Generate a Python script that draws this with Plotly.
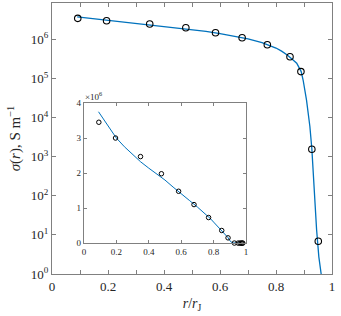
import plotly.graph_objects as go

# measured data (open circles)
r_obs = [0.092, 0.195, 0.349, 0.478, 0.584, 0.679, 0.769, 0.850, 0.889, 0.928, 0.951, 0.962, 0.970, 0.976, 0.980]
sigma_obs = [3.45e6, 3.0e6, 2.47e6, 1.98e6, 1.48e6, 1.10e6, 7.3e5, 3.6e5, 1.5e5, 1.55e3, 6.9, 0.3, 0.1, 0.05, 0.02]

# model curve
r_fit = [0.09, 0.15, 0.20, 0.25, 0.30, 0.35, 0.40, 0.45, 0.50, 0.55, 0.60, 0.65, 0.70, 0.75, 0.78,
         0.80, 0.82, 0.84, 0.86, 0.874, 0.89, 0.897, 0.909, 0.921, 0.928, 0.937, 0.945, 0.953, 0.960, 0.967]
sigma_fit = [3.75e6, 3.36e6, 3.0e6, 2.75e6, 2.52e6, 2.32e6, 2.14e6, 1.97e6, 1.80e6, 1.60e6, 1.40e6,
             1.22e6, 1.03e6, 0.83e6, 0.70e6, 0.60e6, 0.50e6, 0.40e6, 0.30e6, 0.245e6, 0.15e6, 9.0e4,
             2.8e4, 5.9e3, 1.6e3, 95, 13.5, 2.75, 1.4, 0.5]

x_ticks = [0, 0.1, 0.2, 0.3, 0.4, 0.5, 0.6, 0.7, 0.8, 0.9, 1.0]
x_labels = ["0", "", "0.2", "", "0.4", "", "0.6", "", "0.8", "", "1"]
y_exps = [0, 1, 2, 3, 4, 5, 6]
inset_x_ticks = [0, 0.2, 0.4, 0.6, 0.8, 1.0]
inset_x_labels = ["0", "0.2", "0.4", "0.6", "0.8", "1"]
inset_y_ticks = [0, 1, 2, 3, 4]

LINE = "#0072BD"
AX = "#808080"
TXT = "#262626"
FONT = "Liberation Serif"


def f(size):
    return dict(family=FONT, size=size, color=TXT)


fig = go.Figure()
fig.add_trace(go.Scatter(x=r_fit, y=sigma_fit, mode="lines", line=dict(color=LINE, width=1.3),
                         xaxis="x", yaxis="y", showlegend=False))
fig.add_trace(go.Scatter(x=r_obs, y=sigma_obs, mode="markers",
                         marker=dict(symbol="circle-open", size=6.5, color="black", line=dict(width=1.1)),
                         xaxis="x", yaxis="y", showlegend=False))
# inset (linear scale, in units of 1e6)
fig.add_trace(go.Scatter(x=r_fit, y=[v / 1e6 for v in sigma_fit], mode="lines",
                         line=dict(color=LINE, width=1), xaxis="x2", yaxis="y2", showlegend=False))
fig.add_trace(go.Scatter(x=r_obs, y=[v / 1e6 for v in sigma_obs], mode="markers",
                         marker=dict(symbol="circle-open", size=4.5, color="black", line=dict(width=1)),
                         xaxis="x2", yaxis="y2", showlegend=False, cliponaxis=False))

axcommon = dict(showline=True, linecolor=AX, linewidth=1, mirror="ticks", ticks="inside",
                tickcolor=AX, showgrid=False, zeroline=False, automargin=False)

fig.update_layout(
    width=341, height=316,
    margin=dict(l=52, r=9, t=3, b=42, autoexpand=False),
    paper_bgcolor="white", plot_bgcolor="white",
    font=f(13),
    xaxis=dict(domain=[0, 1], range=[0, 1], tickvals=x_ticks, ticktext=x_labels, ticklen=4,
               tickfont=f(13), title=dict(text="<i>r</i>/<i>r</i><sub>J</sub>",
               font=f(14), standoff=5), **axcommon),
    yaxis=dict(domain=[0, 1], type="log", range=[0, 6.93], tickvals=[10 ** e for e in y_exps],
               ticktext=["10<sup>%d</sup>" % e for e in y_exps], ticklen=4, tickfont=f(13),
               title=dict(text="<i>σ</i>(<i>r</i>), S m<sup>−1</sup>", font=f(15), standoff=6),
               **axcommon),
    xaxis2=dict(domain=[0.114, 0.693], anchor="y2", range=[0, 1], tickvals=inset_x_ticks,
                ticktext=inset_x_labels, ticklen=3, tickfont=f(9), **axcommon),
    yaxis2=dict(domain=[0.114, 0.631], anchor="x2", range=[0, 4], tickvals=inset_y_ticks,
                ticklen=3, tickfont=f(9), **axcommon),
    annotations=[dict(text="×10<sup>6</sup>", xref="paper", yref="paper", x=0.114, y=0.631,
                      xanchor="left", yanchor="bottom", showarrow=False, font=f(9),
                      xshift=-1, yshift=-1)],
)

fig.write_html("out.html", config={"displayModeBar": False},
               post_script="document.body.style.margin='0';document.body.style.padding='0';")
